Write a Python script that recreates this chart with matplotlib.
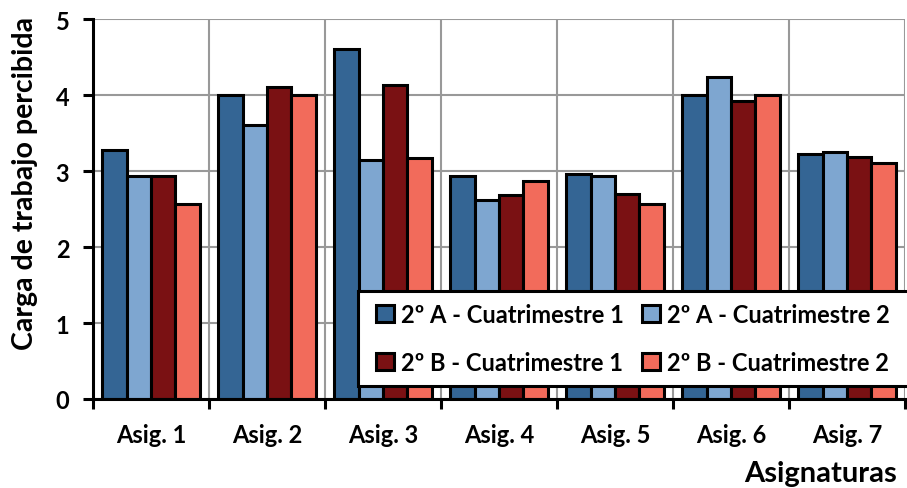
import numpy as np
import matplotlib
matplotlib.use("Agg")
import matplotlib.pyplot as plt
from matplotlib.patches import Rectangle

plt.rcParams['font.family'] = ['Lato', 'DejaVu Sans']
plt.rcParams['font.weight'] = 'bold'

asignaturas = ["Asig. 1", "Asig. 2", "Asig. 3", "Asig. 4", "Asig. 5", "Asig. 6", "Asig. 7"]
a_c1 = [3.27, 4.00, 4.60, 2.94, 2.96, 4.00, 3.23]
a_c2 = [2.93, 3.60, 3.15, 2.62, 2.93, 4.24, 3.25]
b_c1 = [2.93, 4.10, 4.13, 2.68, 2.70, 3.92, 3.19]
b_c2 = [2.57, 4.00, 3.17, 2.87, 2.57, 4.00, 3.10]
series_labels = ["2º A - Cuatrimestre 1", "2º A - Cuatrimestre 2",
                 "2º B - Cuatrimestre 1", "2º B - Cuatrimestre 2"]
colors = ["#346594", "#7EA6D0", "#7A1113", "#F26B5B"]

W, H = 907, 489
fig = plt.figure(figsize=(W / 100, H / 100), dpi=100)
ax = fig.add_axes([93 / W, 1 - 400 / H, 812 / W, 380 / H])

x = np.arange(len(asignaturas))
bw = 0.21
series = [a_c1, a_c2, b_c1, b_c2]
handles = []
for i, (vals, col, lab) in enumerate(zip(series, colors, series_labels)):
    h = ax.bar(x + (i - 1.5) * bw, vals, width=bw, color=col, edgecolor="black",
               linewidth=2.2, label=lab, zorder=3)
    handles.append(h)

ax.set_xlim(-0.5, len(asignaturas) - 0.5)
ax.set_ylim(0, 5)
ax.set_yticks(range(6))
ax.set_xticks(x)
ax.set_xticklabels(asignaturas)
ax.set_xticks(np.arange(-0.5, len(asignaturas)), minor=True)

ax.grid(True, axis="y", which="major", color="#999999", linewidth=1.5, zorder=0)
ax.grid(True, axis="x", which="minor", color="#999999", linewidth=1.5, zorder=0)
ax.set_axisbelow(True)

for s in ["top", "right"]:
    ax.spines[s].set_visible(False)
for s in ["left", "bottom"]:
    ax.spines[s].set_linewidth(2.2)
    ax.spines[s].set_zorder(4)

ax.tick_params(axis="y", length=7, width=2.2, pad=10, labelsize=17)
ax.tick_params(axis="x", which="major", length=0, pad=17, labelsize=17)
ax.tick_params(axis="x", which="minor", length=7, width=2.2, direction="out")

ax.set_ylabel("Carga de trabajo percibida", fontsize=20.5, fontweight="bold", va="center")
ax.yaxis.set_label_coords(-0.084, 0.57)
ax.set_xlabel("Asignaturas", fontsize=21, fontweight="bold", ha="right", va="center")
ax.xaxis.set_label_coords(0.99, -0.195)

# legend box runs off the right edge of the figure
box = Rectangle((358 / W, 1 - 387 / H), 1.0, 95 / H, transform=fig.transFigure,
                facecolor="white", edgecolor="black", linewidth=2.2,
                clip_on=False, zorder=9)
ax.add_patch(box)

# two-column legend filled row by row
order = [0, 2, 1, 3]
leg = ax.legend(handles=[handles[k] for k in order], ncol=2, loc="upper left",
                bbox_to_anchor=(364 / W, 1 - 292 / H), bbox_transform=fig.transFigure,
                borderaxespad=0, frameon=False,
                handlelength=0.75, handleheight=0.75, handletextpad=0.3,
                columnspacing=0.8, labelspacing=1.05, borderpad=0.5,
                prop={"weight": "bold", "size": 17})
leg.set_zorder(10)

fig.savefig("out.png", dpi=100)
